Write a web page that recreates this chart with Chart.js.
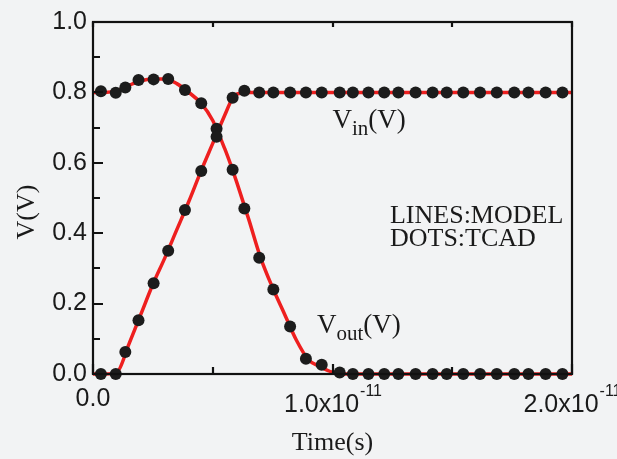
<!DOCTYPE html>
<html>
<head>
<meta charset="utf-8">
<script src="https://cdn.jsdelivr.net/npm/chart.js@4.4.0/dist/chart.umd.min.js"></script>
<style>
  html, body { margin: 0; padding: 0; background: #f2f3f4; }
  #wrap { width: 617px; height: 459px; }
</style>
</head>
<body>
<div id="wrap"><canvas id="chart" width="617" height="459"></canvas></div>
<script>
// time in units of 1e-12 s
const modelTime = [0, 0.5, 1.0, 1.5, 2.0, 2.5, 3.0, 3.5, 4.0, 4.5, 5.0, 5.5, 5.8, 6.0, 6.5, 7.0, 7.5, 8.0, 8.5, 9.0, 9.5, 10.0, 10.5, 20];
const modelVin = [0, 0, 0.005, 0.085, 0.17, 0.255, 0.33, 0.41, 0.49, 0.575, 0.655, 0.735, 0.78, 0.795, 0.8, 0.8, 0.8, 0.8, 0.8, 0.8, 0.8, 0.8, 0.8, 0.8];
const modelVout = [0.8, 0.8, 0.805, 0.82, 0.833, 0.838, 0.838, 0.825, 0.8, 0.77, 0.72, 0.64, 0.585, 0.545, 0.44, 0.33, 0.245, 0.17, 0.095, 0.04, 0.02, 0.005, 0, 0];

const tcadTime = [0.33, 0.95, 1.35, 1.9, 2.53, 3.14, 3.84, 4.52, 5.16, 5.83, 6.32, 6.94, 7.53, 8.23, 8.89, 9.55, 10.3, 10.85, 11.5, 12.16, 12.75, 13.47, 14.18, 14.77, 15.46, 16.16, 16.86, 17.59, 18.18, 18.9, 19.6];
const tcadVin = [0, 0, 0.0625, 0.153, 0.258, 0.35, 0.466, 0.577, 0.674, 0.785, 0.805, 0.8, 0.8, 0.8, 0.8, 0.8, 0.8, 0.8, 0.8, 0.8, 0.8, 0.8, 0.8, 0.8, 0.8, 0.8, 0.8, 0.8, 0.8, 0.8, 0.8];
const tcadVout = [0.803, 0.799, 0.814, 0.835, 0.837, 0.838, 0.807, 0.769, 0.697, 0.58, 0.47, 0.33, 0.24, 0.135, 0.043, 0.026, 0.004, 0, 0, 0, 0, 0, 0, 0, 0, 0, 0, 0, 0, 0, 0];

const yTicks = [0, 0.2, 0.4, 0.6, 0.8, 1.0];
const xTickLabels = [[0, '0.0', ''], [10, '1.0x10', '-11'], [20, '2.0x10', '-11']];

const SANS = '"Liberation Sans", Arial, sans-serif';
const SERIF = '"Liberation Serif", "Times New Roman", serif';
const RED = '#ee1f1f';
const DOT = '#1c1c1c';

const pts = (ts, vs) => ts.map((t, i) => ({ x: t * 1e-12, y: vs[i] }));

// frame, inward ticks, x labels, titles and notes
const decor = {
  id: 'decor',
  afterDraw(chart) {
    const { ctx, chartArea: a, scales: { x, y } } = chart;
    ctx.save();
    ctx.strokeStyle = '#111';
    ctx.lineWidth = 2.2;
    ctx.strokeRect(a.left, a.top, a.right - a.left, a.bottom - a.top);

    ctx.beginPath();
    for (let v = 0; v <= 1.0001; v += 0.1) {
      const py = Math.round(y.getPixelForValue(v));
      const major = Math.round(v * 10) % 2 === 0;
      ctx.moveTo(a.left, py);
      ctx.lineTo(a.left + (major ? 10 : 7), py);
    }
    for (let t = 0; t <= 20; t += 5) {
      const px = Math.round(x.getPixelForValue(t * 1e-12));
      const major = t % 10 === 0;
      ctx.moveTo(px, a.bottom);
      ctx.lineTo(px, a.bottom - (major ? 10 : 7));
      ctx.moveTo(px, a.top);
      ctx.lineTo(px, a.top + 5);
    }
    ctx.stroke();

    // x tick labels with superscript
    ctx.fillStyle = '#1a1a1a';
    ctx.textBaseline = 'alphabetic';
    xTickLabels.forEach(([t, main, sup]) => {
      ctx.font = '25px ' + SANS;
      const w1 = ctx.measureText(main).width;
      ctx.font = '16px ' + SANS;
      const w2 = sup ? ctx.measureText(sup).width : 0;
      const cx = x.getPixelForValue(t * 1e-12);
      const left = cx - (w1 + w2) / 2;
      const base = sup ? 412 : 406;
      ctx.font = '25px ' + SANS;
      ctx.textAlign = 'left';
      ctx.fillText(main, left, base);
      if (sup) {
        ctx.font = '16px ' + SANS;
        ctx.fillText(sup, left + w1 + 1, base - 16);
      }
    });

    // axis titles
    ctx.font = '26px ' + SERIF;
    ctx.textAlign = 'center';
    ctx.fillText('Time(s)', (a.left + a.right) / 2, 450);
    ctx.save();
    ctx.translate(34, 212);
    ctx.rotate(-Math.PI / 2);
    ctx.fillText('V(V)', 0, 0);
    ctx.restore();

    // series labels
    const subLabel = (tx, vy, sub) => {
      let px = x.getPixelForValue(tx * 1e-12);
      const py = y.getPixelForValue(vy);
      ctx.textAlign = 'left';
      ctx.font = '27px ' + SERIF;
      ctx.fillText('V', px, py);
      px += ctx.measureText('V').width;
      ctx.font = '21px ' + SERIF;
      ctx.fillText(sub, px, py + 7);
      px += ctx.measureText(sub).width;
      ctx.font = '27px ' + SERIF;
      ctx.fillText('(V)', px, py);
    };
    subLabel(10.0, 0.699, 'in');
    subLabel(9.35, 0.1165, 'out');

    ctx.font = '26px ' + SERIF;
    ctx.textAlign = 'left';
    ctx.fillText('LINES:MODEL', x.getPixelForValue(12.4e-12), y.getPixelForValue(0.43));
    ctx.fillText('DOTS:TCAD', x.getPixelForValue(12.4e-12), y.getPixelForValue(0.365));
    ctx.restore();
  }
};

new Chart(document.getElementById('chart'), {
  type: 'scatter',
  data: {
    datasets: [
      { label: 'Vin model', data: pts(modelTime, modelVin), showLine: true, borderColor: RED, borderWidth: 3.5, pointRadius: 0, cubicInterpolationMode: 'monotone', order: 2 },
      { label: 'Vout model', data: pts(modelTime, modelVout), showLine: true, borderColor: RED, borderWidth: 3.5, pointRadius: 0, cubicInterpolationMode: 'monotone', order: 2 },
      { label: 'Vin TCAD', data: pts(tcadTime, tcadVin), pointRadius: 6, backgroundColor: DOT, borderWidth: 0, order: 1 },
      { label: 'Vout TCAD', data: pts(tcadTime, tcadVout), pointRadius: 6, backgroundColor: DOT, borderWidth: 0, order: 1 }
    ]
  },
  options: {
    responsive: false,
    animation: false,
    clip: false,
    layout: { padding: { top: 22, right: 45, left: 0, bottom: 0 } },
    plugins: { legend: { display: false }, tooltip: { enabled: false } },
    scales: {
      x: {
        type: 'linear', min: 0, max: 20e-12,
        grid: { display: false, drawTicks: false },
        border: { display: false },
        ticks: { display: false },
        afterFit: s => { s.height = 85; }
      },
      y: {
        min: 0, max: 1.0,
        grid: { display: false, drawTicks: false },
        border: { display: false },
        afterBuildTicks: s => { s.ticks = yTicks.map(v => ({ value: v })); },
        ticks: {
          padding: 6,
          color: '#1a1a1a',
          font: { family: SANS, size: 25 },
          callback: v => v.toFixed(1)
        },
        afterFit: s => { s.width = 93; }
      }
    }
  },
  plugins: [decor]
});
</script>
</body>
</html>
